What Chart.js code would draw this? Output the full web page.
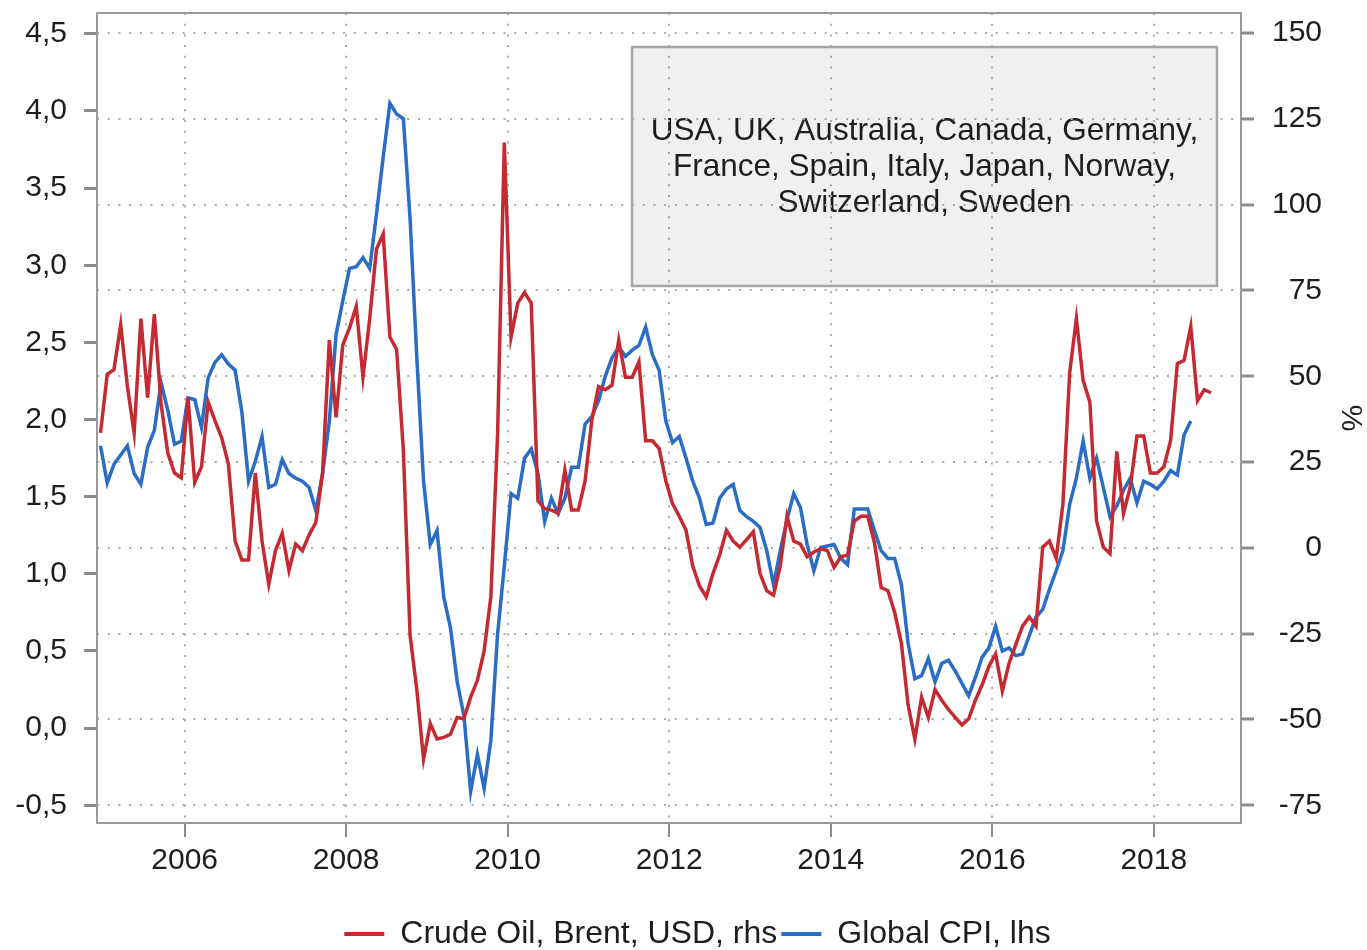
<!DOCTYPE html>
<html>
<head>
<meta charset="utf-8">
<script src="https://cdn.jsdelivr.net/npm/chart.js@4.4.1/dist/chart.umd.min.js"></script>
<style>
  html, body { margin: 0; padding: 0; background: #fff; }
</style>
</head>
<body>
<canvas id="chart" width="1367" height="950"></canvas>
<script>
// ---- data (monthly, first value = Dec 2004) ----
const firstMonth = [2004, 12];

// Brent crude, y/y %, right axis
const crudeOil = [
  33.5,
  50.6, 51.9, 65.0, 47.0, 33.5, 66.8, 43.8, 68.1, 42.0, 27.6, 21.8, 20.4,
  43.8, 19.1, 23.6, 42.5, 37.1, 32.1, 24.5, 2.0, -3.5, -3.5, 21.8, 2.0,
  -10.6, -0.8, 4.2, -6.6, 1.1, -0.8, 3.8, 7.4, 21.8, 60.5, 38.0, 59.1,
  64.1, 70.4, 49.7, 66.8, 87.0, 91.5, 61.4, 57.8, 28.5, -25.5, -41.3, -61.5,
  -51.2, -55.7, -55.2, -54.3, -49.4, -49.8, -43.5, -38.6, -30.0, -14.3, 33.0, 118.1,
  61.4, 71.3, 74.4, 71.3, 13.7, 11.4, 11.0, 10.1, 22.7, 11.0, 11.0, 19.5,
  37.1, 47.0, 46.1, 47.4, 60.5, 49.7, 49.7, 54.2, 31.2, 31.2, 29.0, 19.5,
  12.8, 9.2, 5.1, -5.3, -11.1, -14.3, -7.5, -2.1, 5.1, 2.0, 0.2, 2.4,
  4.7, -7.5, -12.5, -13.8, -5.3, 9.2, 2.0, 1.1, -2.6, -1.2, -0.3, -0.8,
  -5.7, -2.6, -2.1, 7.8, 9.2, 9.2, 1.5, -11.6, -12.5, -18.8, -27.8, -45.8,
  -55.7, -43.5, -49.4, -41.3, -44.4, -47.1, -49.4, -51.6, -49.8, -44.4, -39.9, -34.5,
  -30.9, -41.7, -33.6, -28.2, -22.8, -20.1, -22.8, 0.2, 2.0, -3.0, 12.8, 51.0,
  66.8, 48.8, 42.5, 7.8, 0.2, -1.7, 28.1, 10.1, 17.7, 32.6, 32.6, 21.8,
  21.8, 23.6, 31.2, 53.7, 54.6, 64.5, 42.9, 46.1, 45.2
];

// Global CPI, y/y %, left axis
const globalCpi = [
  1.83,
  1.59, 1.71, 1.77, 1.83, 1.65, 1.58, 1.82, 1.93, 2.24, 2.06, 1.84, 1.86,
  2.14, 2.13, 1.95, 2.27, 2.37, 2.42, 2.36, 2.32, 2.05, 1.60, 1.73, 1.89,
  1.56, 1.58, 1.74, 1.65, 1.62, 1.60, 1.56, 1.41, 1.65, 1.99, 2.55, 2.77,
  2.98, 2.99, 3.05, 2.98, 3.33, 3.70, 4.05, 3.98, 3.95, 3.30, 2.40, 1.60,
  1.19, 1.28, 0.85, 0.65, 0.30, 0.08, -0.41, -0.17, -0.39, -0.08, 0.61, 1.05,
  1.52, 1.49, 1.75, 1.81, 1.65, 1.34, 1.49, 1.39, 1.49, 1.69, 1.69, 1.97,
  2.02, 2.12, 2.28, 2.40, 2.47, 2.41, 2.45, 2.48, 2.60, 2.42, 2.32, 1.99,
  1.85, 1.89, 1.75, 1.60, 1.49, 1.32, 1.33, 1.49, 1.55, 1.58, 1.41, 1.37,
  1.34, 1.30, 1.15, 0.93, 1.15, 1.35, 1.52, 1.43, 1.19, 1.02, 1.17, 1.18,
  1.19, 1.10, 1.06, 1.42, 1.42, 1.42, 1.28, 1.15, 1.10, 1.10, 0.93, 0.55,
  0.32, 0.34, 0.45, 0.30, 0.42, 0.44, 0.37, 0.29, 0.21, 0.33, 0.46, 0.52,
  0.66, 0.50, 0.52, 0.47, 0.48, 0.60, 0.72, 0.77, 0.90, 1.02, 1.15, 1.45,
  1.62, 1.86, 1.62, 1.75, 1.56, 1.37, 1.44, 1.54, 1.62, 1.46, 1.60, 1.58,
  1.55, 1.60, 1.67, 1.64, 1.90, 1.99
];

const yearTicks = [2006, 2008, 2010, 2012, 2014, 2016, 2018];
const cpiTicks  = [-0.5, 0, 0.5, 1, 1.5, 2, 2.5, 3, 3.5, 4, 4.5];
const oilTicks  = [-75, -50, -25, 0, 25, 50, 75, 100, 125, 150];
const seriesNames = ['Crude Oil, Brent, USD, rhs', 'Global CPI, lhs'];
const noteLines = [
  'USA, UK, Australia, Canada, Germany,',
  'France, Spain, Italy, Japan, Norway,',
  'Switzerland, Sweden'
];
// ------------------------------------------------

const FONT = 'Liberation Sans, Arial, sans-serif';
const RED = '#c42a32', BLUE = '#2b6cc4';
const GRID = '#ababab', TICK = '#8c8c8c', TEXT = '#1e1e1e';

Chart.defaults.font.family = FONT;
Chart.defaults.color = TEXT;

// x = middle of the month, as decimal year
const toPoints = vals => vals.map((v, i) => ({
  x: firstMonth[0] + (firstMonth[1] - 1 + i + 0.5) / 12,
  y: v
}));

const fixBox = (w, h) => s => {
  if (w != null) s.width = w;
  if (h != null) s.height = h;
  s.paddingTop = s.paddingBottom = s.paddingLeft = s.paddingRight = 0;
};

// grey note box, drawn under the grid
const notePlugin = {
  id: 'note',
  beforeDraw(chart) {
    const { ctx, chartArea: a } = chart;
    const w = a.right - a.left, h = a.bottom - a.top;
    const x0 = a.left + 0.4677 * w, x1 = a.left + 0.979 * w;
    const y0 = a.top + 0.042 * h, y1 = a.top + 0.337 * h;
    ctx.save();
    ctx.fillStyle = '#f0f0f0';
    ctx.fillRect(x0, y0, x1 - x0, y1 - y0);
    ctx.strokeStyle = '#a6a6a6';
    ctx.lineWidth = 2.5;
    ctx.strokeRect(x0, y0, x1 - x0, y1 - y0);
    ctx.fillStyle = TEXT;
    ctx.font = '31.5px ' + FONT;
    ctx.textAlign = 'center';
    ctx.textBaseline = 'middle';
    noteLines.forEach((t, i) => ctx.fillText(t, (x0 + x1) / 2, y0 + 84 + i * 36));
    ctx.restore();
  }
};

// plot frame, rotated "%" on the right, legend nudged under the plot
const framePlugin = {
  id: 'frame',
  afterLayout(chart) {
    const lg = chart.legend;
    lg.left += 73;
    lg.width -= 73;
  },
  afterDatasetsDraw(chart) {
    const { ctx, chartArea: a } = chart;
    ctx.save();
    ctx.strokeStyle = '#9a9a9a';
    ctx.lineWidth = 2;
    ctx.strokeRect(a.left, a.top, a.right - a.left, a.bottom - a.top);
    ctx.restore();
  },
  afterDraw(chart) {
    const { ctx, chartArea: a } = chart;
    ctx.save();
    ctx.translate(chart.scales.y2.right + 28, (a.top + a.bottom) / 2);
    ctx.rotate(Math.PI / 2);
    ctx.fillStyle = TEXT;
    ctx.font = '30px ' + FONT;
    ctx.textAlign = 'center';
    ctx.textBaseline = 'middle';
    ctx.fillText('%', 0, 0);
    ctx.restore();
  }
};

new Chart(document.getElementById('chart'), {
  type: 'line',
  data: {
    datasets: [
      { label: seriesNames[0], data: toPoints(crudeOil), yAxisID: 'y2',
        borderColor: RED, backgroundColor: RED, borderWidth: 3.5 },
      { label: seriesNames[1], data: toPoints(globalCpi), yAxisID: 'y',
        borderColor: BLUE, backgroundColor: BLUE, borderWidth: 3.5 }
    ]
  },
  options: {
    responsive: false,
    animation: false,
    parsing: false,
    elements: { point: { radius: 0 }, line: { tension: 0 } },
    layout: { padding: { top: 13, left: 0, right: 45, bottom: -10 } },
    plugins: {
      tooltip: { enabled: false },
      legend: {
        position: 'bottom',
        labels: {
          boxWidth: 40, boxHeight: 4, padding: 4,
          font: { size: 32 }, color: TEXT,
          generateLabels: chart => Chart.defaults.plugins.legend.labels.generateLabels(chart)
            .map(l => ({ ...l, fillStyle: l.strokeStyle, lineWidth: 0 }))
        }
      }
    },
    scales: {
      x: {
        type: 'linear',
        min: 2004.915, max: 2019.08,
        afterBuildTicks: s => { s.ticks = yearTicks.map(v => ({ value: v })); },
        afterFit: fixBox(null, 91),
        ticks: { callback: v => String(v), padding: 6, font: { size: 30 }, color: TEXT,
                 autoSkip: false, maxRotation: 0 },
        grid: { color: GRID, lineWidth: 2, tickLength: 14, tickColor: TICK, tickWidth: 2 },
        border: { display: false, dash: [2, 8.7] }
      },
      y: {
        position: 'left',
        min: -0.615, max: 4.635,
        afterBuildTicks: s => { s.ticks = cpiTicks.map(v => ({ value: v })); },
        afterFit: fixBox(97, null),
        ticks: { callback: v => v.toFixed(1).replace('.', ','), padding: 17,
                 font: { size: 30 }, color: TEXT },
        grid: { drawOnChartArea: false, tickLength: 13, tickColor: TICK, tickWidth: 3 },
        border: { display: false }
      },
      y2: {
        position: 'right',
        min: -80.16, max: 155.83,
        afterBuildTicks: s => { s.ticks = oilTicks.map(v => ({ value: v })); },
        afterFit: fixBox(81, null),
        ticks: { callback: v => String(v), padding: 15, crossAlign: 'far',
                 font: { size: 30 }, color: TEXT },
        grid: { color: GRID, lineWidth: 2, tickLength: 13, tickColor: TICK, tickWidth: 3 },
        border: { display: false, dash: [2, 8.7] }
      }
    }
  },
  plugins: [notePlugin, framePlugin]
});
</script>
</body>
</html>
